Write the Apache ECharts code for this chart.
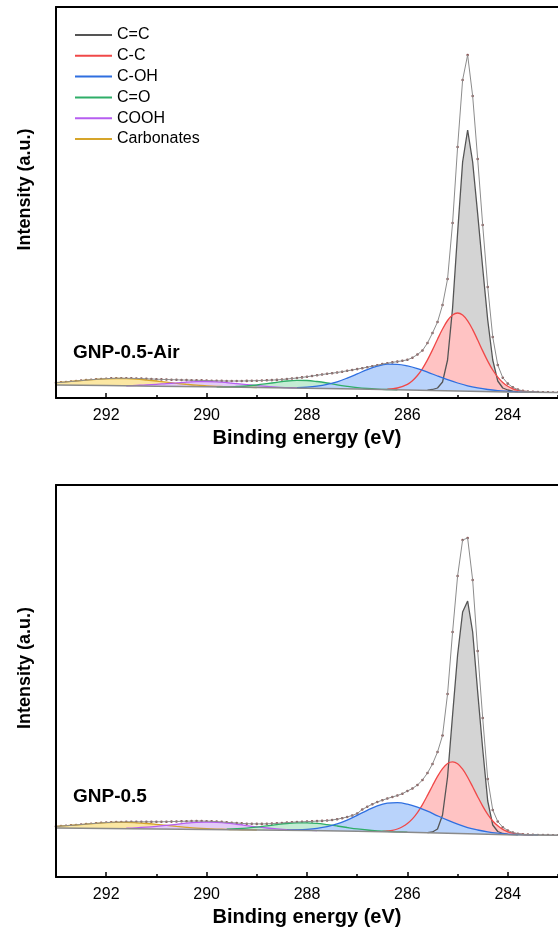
<!DOCTYPE html>
<html>
<head>
<meta charset="utf-8">
<script src="https://cdn.jsdelivr.net/npm/echarts@6/dist/echarts.min.js"></script>
<style>
  html, body { margin: 0; padding: 0; background: #ffffff; }
  #chart { width: 558px; height: 935px; }
</style>
</head>
<body>
<div id="chart"></div>
<script>
// C 1s spectra: measured points (0.1 eV steps) and fitted components, intensity in a.u.
const energy = [
  293.0, 292.9, 292.8, 292.7, 292.6, 292.5, 292.4, 292.3, 292.2, 292.1,
  292.0, 291.9, 291.8, 291.7, 291.6, 291.5, 291.4, 291.3, 291.2, 291.1,
  291.0, 290.9, 290.8, 290.7, 290.6, 290.5, 290.4, 290.3, 290.2, 290.1,
  290.0, 289.9, 289.8, 289.7, 289.6, 289.5, 289.4, 289.3, 289.2, 289.1,
  289.0, 288.9, 288.8, 288.7, 288.6, 288.5, 288.4, 288.3, 288.2, 288.1,
  288.0, 287.9, 287.8, 287.7, 287.6, 287.5, 287.4, 287.3, 287.2, 287.1,
  287.0, 286.9, 286.8, 286.7, 286.6, 286.5, 286.4, 286.3, 286.2, 286.1,
  286.0, 285.9, 285.8, 285.7, 285.6, 285.5, 285.4, 285.3, 285.2, 285.1,
  285.0, 284.9, 284.8, 284.7, 284.6, 284.5, 284.4, 284.3, 284.2, 284.1,
  284.0, 283.9, 283.8, 283.7, 283.6, 283.5, 283.4, 283.3, 283.2, 283.1,
  283.0
];

// GNP-0.5-Air
const measuredAir = [
  15.3, 15.6, 16.0, 16.5, 16.9, 17.4, 17.9, 18.3, 18.7, 19.0,
  19.3, 19.6, 19.7, 19.8, 19.7, 19.7, 19.5, 19.4, 19.2, 19.0,
  18.8, 18.6, 18.5, 18.3, 18.2, 18.0, 17.9, 17.8, 17.7, 17.6,
  17.5, 17.3, 17.2, 17.1, 17.0, 17.0, 17.0, 17.0, 17.1, 17.2,
  17.3, 17.5, 17.7, 17.9, 18.1, 18.5, 19.0, 19.5, 20.0, 20.6,
  21.3, 22.0, 22.7, 23.5, 24.2, 24.8, 25.5, 26.3, 27.2, 28.0,
  28.9, 29.8, 30.8, 31.8, 32.8, 33.9, 34.8, 35.6, 36.4, 37.2,
  38.2, 40.3, 43.5, 47.5, 55.0, 65.0, 76.0, 93.0, 119.0, 175.0,
  251.0, 318.0, 343.0, 302.0, 239.0, 173.0, 111.0, 61.0, 33.0, 20.3,
  14.4, 10.6, 8.4, 7.1, 6.5, 6.1, 5.9, 5.7, 5.6, 5.55,
  5.5
];
const backgroundAir = [[293, 13.0], [292, 12.4], [291, 11.8], [290, 11.2], [289, 10.5], [288, 9.8], [287, 9.0], [286, 8.0], [285, 7.0], [284, 6.0], [283, 5.5]];
const ccDoubleAir = [[285.6, 7.8], [285.5, 8.5], [285.4, 10], [285.3, 16], [285.2, 38], [285.1, 90], [285.0, 165], [284.9, 236], [284.8, 268], [284.7, 236], [284.6, 184], [284.5, 130], [284.4, 78], [284.3, 38], [284.2, 17], [284.1, 10], [284.0, 8], [283.9, 6.8], [283.8, 6.2]];
const ccSingleAir = [[286.4, 8.9], [286.2, 10.0], [286.0, 13.7], [285.9, 17.3], [285.8, 22.5], [285.7, 29.4], [285.6, 38.1], [285.5, 48.1], [285.4, 58.8], [285.3, 69.0], [285.2, 77.5], [285.1, 83.1], [285.0, 85.0], [284.9, 82.9], [284.8, 77.1], [284.7, 68.4], [284.6, 58.0], [284.5, 47.1], [284.4, 36.9], [284.3, 28.0], [284.2, 20.9], [284.1, 15.5], [284.0, 11.7], [283.9, 9.2], [283.8, 7.7], [283.6, 6.3], [283.4, 5.7]];
const cohAir = [[288.2, 10.4], [288.0, 10.9], [287.8, 11.9], [287.6, 13.6], [287.4, 16.2], [287.2, 19.9], [287.0, 24.1], [286.8, 28.4], [286.6, 31.9], [286.4, 33.8], [286.2, 33.7], [286.0, 32.1], [285.8, 29.4], [285.6, 25.9], [285.4, 22.0], [285.2, 18.3], [285.0, 15.0], [284.8, 12.2], [284.6, 10.1], [284.4, 8.5], [284.2, 7.4], [284.0, 6.7], [283.8, 6.2], [283.6, 5.9], [283.4, 5.7]];
const coAir = [[289.8, 11.2], [289.6, 11.2], [289.4, 11.5], [289.2, 12.0], [289.0, 13.0], [288.8, 14.3], [288.6, 15.7], [288.4, 17.0], [288.2, 17.6], [288.0, 17.5], [287.8, 16.5], [287.6, 15.0], [287.4, 13.2], [287.2, 11.7], [287.0, 10.4], [286.8, 9.5], [286.6, 8.9], [286.4, 8.5], [286.2, 8.2]];
const coohAir = [[291.6, 12.2], [291.4, 12.6], [291.2, 13.0], [291.0, 13.6], [290.8, 14.4], [290.6, 15.1], [290.4, 15.9], [290.2, 16.4], [290.0, 16.5], [289.8, 16.2], [289.6, 15.4], [289.4, 14.4], [289.2, 13.3], [289.0, 12.3], [288.8, 11.5], [288.6, 10.8], [288.4, 10.4], [288.2, 10.1], [288.0, 9.8]];
const carbonatesAir = [[293.0, 15.3], [292.8, 16.1], [292.6, 17.0], [292.4, 17.8], [292.2, 18.6], [292.0, 19.2], [291.8, 19.5], [291.6, 19.4], [291.4, 18.9], [291.2, 18.0], [291.0, 17.0], [290.8, 15.9], [290.6, 14.7], [290.4, 13.7], [290.2, 12.8], [290.0, 12.2], [289.8, 11.7], [289.6, 11.2], [289.4, 11.0], [289.2, 10.7], [289.0, 10.5]];

// GNP-0.5
const measuredRef = [
  50.6, 50.9, 51.3, 51.6, 52.0, 52.5, 52.9, 53.3, 53.7, 54.1,
  54.4, 54.7, 54.9, 55.0, 55.1, 55.2, 55.2, 55.2, 55.2, 55.2,
  55.2, 55.2, 55.3, 55.4, 55.5, 55.7, 55.8, 55.9, 56.0, 55.9,
  55.8, 55.7, 55.4, 55.1, 54.7, 54.3, 54.0, 53.6, 53.3, 53.2,
  53.1, 53.1, 53.2, 53.4, 53.7, 54.0, 54.4, 54.7, 55.0, 55.2,
  55.4, 55.6, 55.9, 56.1, 56.5, 57.0, 57.8, 58.8, 60.0, 61.5,
  63.5, 67.5, 70.2, 72.8, 75.0, 76.8, 78.5, 80.0, 81.5, 83.3,
  86.0, 88.5, 92.0, 97.0, 104.0, 113.0, 125.0, 141.5, 183.0, 245.0,
  301.0, 337.0, 339.0, 297.0, 226.0, 159.0, 98.0, 67.0, 55.5, 49.8,
  46.5, 44.5, 43.3, 42.8, 42.4, 42.1, 42.0, 41.9, 41.9, 41.8,
  41.8
];
const backgroundRef = [[293, 49.0], [292, 48.5], [291, 48.0], [290, 47.5], [289, 47.0], [288, 46.5], [287, 45.8], [286, 44.8], [285, 43.5], [284, 42.2], [283, 41.8]];
const ccDoubleRef = [[285.6, 44.4], [285.5, 45.0], [285.4, 48], [285.3, 62], [285.2, 100], [285.1, 162], [285.0, 222], [284.9, 265], [284.8, 276], [284.7, 245], [284.6, 185], [284.5, 128], [284.4, 76], [284.3, 52], [284.2, 45.5], [284.1, 43.5], [284.0, 42.7], [283.9, 42.3], [283.8, 42.1]];
const ccSingleRef = [[286.5, 45.7], [286.4, 46.1], [286.3, 46.7], [286.2, 48.0], [286.1, 50.2], [286.0, 53.5], [285.9, 58.1], [285.8, 64.4], [285.7, 72.4], [285.6, 81.6], [285.5, 91.3], [285.4, 100.6], [285.3, 108.3], [285.2, 113.5], [285.1, 115.1], [285.0, 113.2], [284.9, 107.8], [284.8, 99.8], [284.7, 90.2], [284.6, 80.3], [284.5, 70.9], [284.4, 62.6], [284.3, 56.0], [284.2, 51.2], [284.1, 47.6], [284.0, 45.2], [283.9, 43.8], [283.8, 43.0], [283.7, 42.5], [283.6, 42.2], [283.5, 42.0]];
const cohRef = [[288.4, 46.9], [288.2, 47.1], [288.0, 47.6], [287.8, 48.6], [287.6, 50.3], [287.4, 53.1], [287.2, 56.9], [287.0, 61.7], [286.8, 66.7], [286.6, 71.1], [286.4, 73.8], [286.2, 74.3], [286.0, 72.8], [285.8, 69.8], [285.6, 65.8], [285.4, 61.2], [285.2, 56.8], [285.0, 52.8], [284.8, 49.4], [284.6, 47.0], [284.4, 45.1], [284.2, 43.8], [284.0, 42.9], [283.8, 42.5], [283.6, 42.2], [283.4, 42.0]];
const coRef = [[289.6, 47.9], [289.4, 48.3], [289.2, 48.9], [289.0, 49.9], [288.8, 51.1], [288.6, 52.4], [288.4, 53.5], [288.2, 54.1], [288.0, 54.2], [287.8, 53.6], [287.6, 52.4], [287.4, 51.0], [287.2, 49.5], [287.0, 48.1], [286.8, 47.0], [286.6, 46.2], [286.4, 45.6], [286.2, 45.2], [286.0, 44.9]];
const coohRef = [[291.6, 48.9], [291.4, 49.2], [291.2, 49.8], [291.0, 50.6], [290.8, 51.6], [290.6, 52.7], [290.4, 53.8], [290.2, 54.6], [290.0, 54.9], [289.8, 54.6], [289.6, 53.9], [289.4, 52.7], [289.2, 51.4], [289.0, 50.1], [288.8, 49.0], [288.6, 48.1], [288.4, 47.4], [288.2, 47.0], [288.0, 46.7], [287.8, 46.4]];
const carbonatesRef = [[293.0, 50.6], [292.8, 51.3], [292.6, 52.0], [292.4, 52.9], [292.2, 53.6], [292.0, 54.3], [291.8, 54.6], [291.6, 54.6], [291.4, 54.2], [291.2, 53.5], [291.0, 52.6], [290.8, 51.6], [290.6, 50.6], [290.4, 49.7], [290.2, 48.9], [290.0, 48.3], [289.8, 47.9], [289.6, 47.6], [289.4, 47.3], [289.2, 47.2], [289.0, 47.0]];

const majorTicks = [292, 290, 288, 286, 284];
const minorTicks = [291, 289, 287, 285, 283];
const legendNames = ['C=C', 'C-C', 'C-OH', 'C=O', 'COOH', 'Carbonates'];
const panelLabels = ['GNP-0.5-Air', 'GNP-0.5'];
const xTitle = 'Binding energy (eV)';
const yTitle = 'Intensity (a.u.)';

const FONT = '"Liberation Sans", Arial, Helvetica, sans-serif';

// line / fill colours of the fitted components
const lineColor = {
  'C=C': '#555555', 'C-C': '#f04848', 'C-OH': '#2f6fe0',
  'C=O': '#2fae68', 'COOH': '#b65ef0', 'Carbonates': '#d6a52a'
};
const fillColor = {
  'C=C': '#d4d4d4', 'C-C': '#ffc3c3', 'C-OH': '#b9d3fb',
  'C=O': '#c4ecd4', 'COOH': '#e2cbf7', 'Carbonates': '#fbe7a3'
};
// painting order of the filled peaks (first is painted first)
const paintOrder = ['C=C', 'C-C', 'Carbonates', 'COOH', 'C=O', 'C-OH'];

const panels = [
  { comps: { 'C=C': ccDoubleAir, 'C-C': ccSingleAir, 'C-OH': cohAir, 'C=O': coAir, 'COOH': coohAir, 'Carbonates': carbonatesAir },
    background: backgroundAir, measured: measuredAir, top: 7, height: 391, yMax: 391, labelY: 353 },
  { comps: { 'C=C': ccDoubleRef, 'C-C': ccSingleRef, 'C-OH': cohRef, 'C=O': coRef, 'COOH': coohRef, 'Carbonates': carbonatesRef },
    background: backgroundRef, measured: measuredRef, top: 485, height: 392, yMax: 392, labelY: 797 }
];

const GRID_LEFT = 56, GRID_WIDTH = 510;

const grids = [], xAxes = [], yAxes = [], series = [], graphics = [];

panels.forEach((p, i) => {
  grids.push({ left: GRID_LEFT, top: p.top, width: GRID_WIDTH, height: p.height, containLabel: false });
  const frameLine = { show: true, onZero: false, lineStyle: { color: '#000', width: 2 } };
  // bottom axis: labels + major ticks
  xAxes.push({
    type: 'value', gridIndex: i, min: 283, max: 293, inverse: true, position: 'bottom', z: 10,
    axisLine: frameLine,
    axisTick: { show: true, inside: true, length: 5, customValues: majorTicks, lineStyle: { color: '#000', width: 1.5 } },
    axisLabel: { show: true, customValues: majorTicks, margin: 10, color: '#000', fontSize: 16, fontFamily: FONT },
    splitLine: { show: false },
    name: xTitle, nameLocation: 'middle', nameGap: 30,
    nameTextStyle: { color: '#000', fontSize: 20, fontWeight: 'bold', fontFamily: FONT }
  });
  // minor ticks
  xAxes.push({
    type: 'value', gridIndex: i, min: 283, max: 293, inverse: true, position: 'bottom', z: 10,
    axisLine: { show: false },
    axisTick: { show: true, inside: true, length: 3, customValues: minorTicks, lineStyle: { color: '#000', width: 1.5 } },
    axisLabel: { show: false }, splitLine: { show: false }
  });
  // top frame
  xAxes.push({
    type: 'value', gridIndex: i, min: 283, max: 293, inverse: true, position: 'top', z: 10,
    axisLine: frameLine, axisTick: { show: false }, axisLabel: { show: false }, splitLine: { show: false }
  });
  yAxes.push({
    type: 'value', gridIndex: i, min: 0, max: p.yMax, position: 'left', z: 10,
    axisLine: frameLine, axisTick: { show: false }, axisLabel: { show: false }, splitLine: { show: false }
  });

  const xIdx = i * 3, yIdx = i;
  paintOrder.forEach(name => {
    series.push({
      type: 'line', name, xAxisIndex: xIdx, yAxisIndex: yIdx,
      data: p.comps[name], showSymbol: false, symbol: 'none',
      smooth: name === 'C=C' ? false : 0.35,
      itemStyle: { color: lineColor[name] },
      lineStyle: { color: lineColor[name], width: 1.3 },
      areaStyle: { color: fillColor[name], opacity: 1 },
      silent: true, animation: false
    });
  });
  // background under the peaks (clears everything below it)
  series.push({
    type: 'line', name: 'Background', xAxisIndex: xIdx, yAxisIndex: yIdx,
    data: p.background, showSymbol: false, symbol: 'none',
    lineStyle: { color: '#8a8a8a', width: 1.5 },
    areaStyle: { color: '#ffffff', opacity: 1 },
    silent: true, animation: false
  });
  const measuredPairs = energy.map((e, k) => [e, p.measured[k]]);
  series.push({
    type: 'line', name: 'Envelope', xAxisIndex: xIdx, yAxisIndex: yIdx,
    data: measuredPairs, showSymbol: false, symbol: 'none',
    lineStyle: { color: '#8c8c8c', width: 1 }, silent: true, animation: false
  });
  series.push({
    type: 'scatter', name: 'Measured', xAxisIndex: xIdx, yAxisIndex: yIdx,
    data: measuredPairs, symbolSize: 2.6,
    itemStyle: { color: '#6e2c2c' }, silent: true, animation: false
  });

  // sample label inside the panel
  graphics.push({
    type: 'text', x: 73, y: p.labelY, z: 20,
    style: { text: panelLabels[i], fill: '#000', font: 'bold 19px ' + FONT, verticalAlign: 'middle' }
  });
  // vertical intensity title
  graphics.push({
    type: 'text', x: 25, y: p.top + p.height / 2 - 13, rotation: Math.PI / 2, z: 20,
    style: { text: yTitle, fill: '#000', font: 'bold 18px ' + FONT, align: 'center', verticalAlign: 'middle' }
  });
});

const chart = echarts.init(document.getElementById('chart'), null, { renderer: 'canvas' });
chart.setOption({
  animation: false,
  backgroundColor: '#ffffff',
  grid: grids,
  xAxis: xAxes,
  yAxis: yAxes,
  legend: {
    show: true, orient: 'vertical', left: 75, top: 27, padding: 0,
    itemWidth: 37, itemHeight: 2, itemGap: 4.8, icon: 'rect',
    data: legendNames.map(n => ({ name: n, icon: 'rect', itemStyle: { color: lineColor[n] } })),
    textStyle: { color: '#000', fontSize: 16, fontFamily: FONT, lineHeight: 16 },
    selectedMode: false
  },
  graphic: graphics,
  series
});
</script>
</body>
</html>
